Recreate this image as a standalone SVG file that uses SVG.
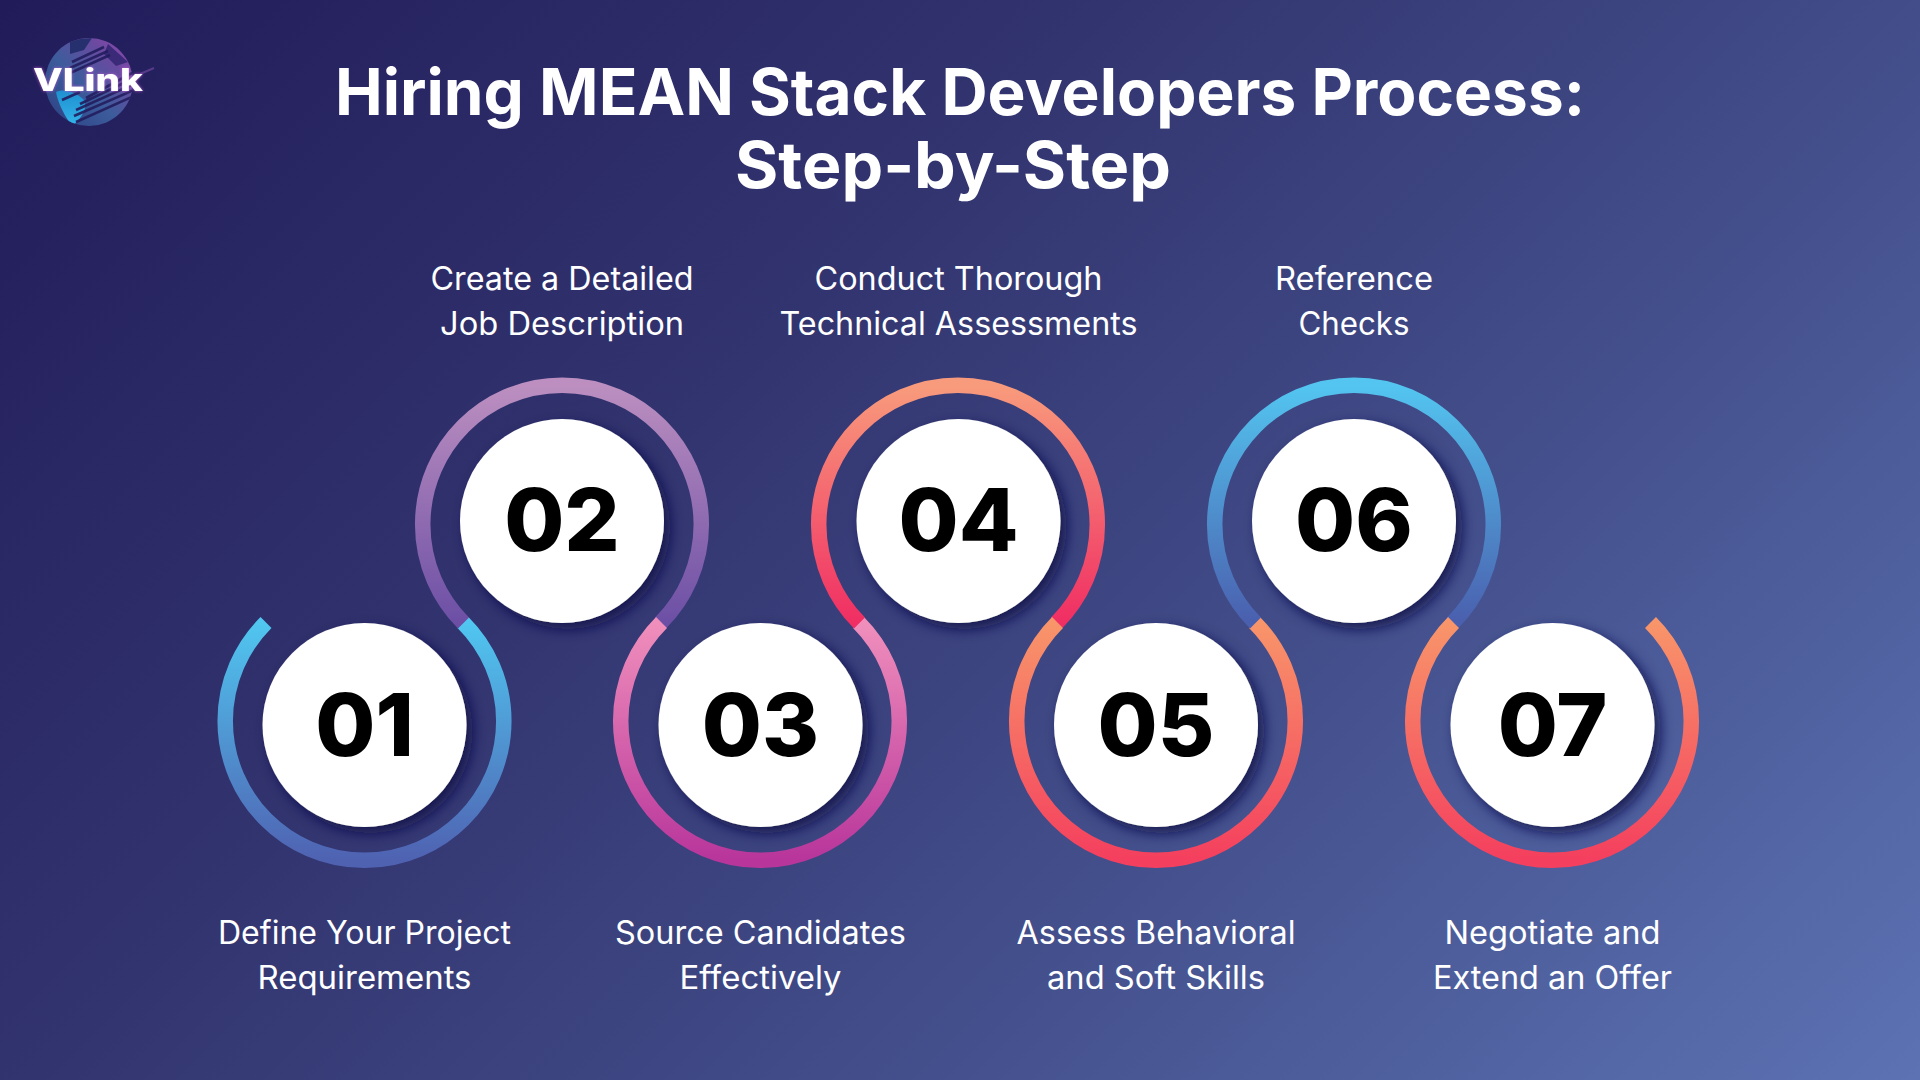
<svg xmlns="http://www.w3.org/2000/svg" width="1920" height="1080" viewBox="0 0 1920 1080">
<defs>
<linearGradient id="bg" gradientUnits="userSpaceOnUse" x1="0" y1="0" x2="1500" y2="1500"><stop offset="0" stop-color="#211b5a"/><stop offset=".37" stop-color="#32346f"/><stop offset=".63" stop-color="#414c88"/><stop offset="1" stop-color="#5c72b3"/></linearGradient>
<linearGradient id="g1" x1="0" y1="0" x2="0" y2="1"><stop offset="0" stop-color="#50c6f0"/><stop offset="1" stop-color="#4f62b2"/></linearGradient>
<linearGradient id="g2" x1="0" y1="0" x2="0" y2="1"><stop offset="0" stop-color="#bc8fc0"/><stop offset="1" stop-color="#6c4fa5"/></linearGradient>
<linearGradient id="g3" x1="0" y1="0" x2="0" y2="1"><stop offset="0" stop-color="#f08fbc"/><stop offset="1" stop-color="#b8359b"/></linearGradient>
<linearGradient id="g4" x1="0" y1="0" x2="0" y2="1"><stop offset="0" stop-color="#f89b7c"/><stop offset="1" stop-color="#f02e63"/></linearGradient>
<linearGradient id="g5" x1="0" y1="0" x2="0" y2="1"><stop offset="0" stop-color="#f8956a"/><stop offset="1" stop-color="#f43f5e"/></linearGradient>
<linearGradient id="g6" x1="0" y1="0" x2="0" y2="1"><stop offset="0" stop-color="#53c5f0"/><stop offset="1" stop-color="#4a5fae"/></linearGradient>
<linearGradient id="globe" x1="0" y1="1" x2="1" y2="0"><stop offset="0" stop-color="#2a3f80"/><stop offset=".45" stop-color="#3d5c9c"/><stop offset=".75" stop-color="#6a4aa0"/><stop offset="1" stop-color="#9a45b0"/></linearGradient>
<linearGradient id="land" x1="0" y1="0" x2="0" y2="1"><stop offset="0" stop-color="#1f8fd0"/><stop offset="1" stop-color="#33b5ea"/></linearGradient>
<filter id="sh" x="-30%" y="-30%" width="170%" height="170%"><feDropShadow dx="6" dy="6" stdDeviation="7" flood-color="#0e0e46" flood-opacity=".85"/></filter>
<filter id="glow" x="-20%" y="-60%" width="140%" height="220%"><feDropShadow dx="0" dy="0" stdDeviation="1.6" flood-color="#c25ad8" flood-opacity="1"/></filter>
<clipPath id="gc"><circle cx="89" cy="82" r="44"/></clipPath>
<style>
.t{font-family:"Inter","Liberation Sans",sans-serif;font-weight:700;font-size:64px;fill:#fff;text-anchor:middle}
.l{font-family:"Inter","Noto Sans",sans-serif;font-weight:400;font-size:32px;fill:#fff;text-anchor:middle}
.n{font-family:"Inter","Liberation Sans",sans-serif;font-weight:800;font-size:87px;fill:#000;text-anchor:middle}
.d{fill:#fff;filter:url(#sh)}
.r{fill:none;stroke-width:15.5}
</style>
</defs>
<rect id="background" width="1920" height="1080" fill="url(#bg)"/>
<g id="logo">
<circle cx="89" cy="82" r="44" fill="url(#globe)"/>
<g clip-path="url(#gc)">
<path d="M56 92C64 88 76 92 84 100C88 108 82 118 72 126C66 118 58 104 56 92Z" fill="url(#land)"/>
<path d="M70 40L92 38L84 50L70 54Z" fill="#27306f"/>
<path d="M108 44L128 62L116 66L104 54Z" fill="#3a2a78"/>
<g stroke="#221d5e" stroke-width="2.6" opacity=".9" fill="none">
<path d="M72 62L104 47M70 68L108 51M68 74L110 55M62 100L80 92M76 122L134 96M74 116L134 90M76 110L134 84M80 104L134 78M86 98L134 72"/>
</g>
</g>
<path d="M140 74L154 68" stroke="#7a4aa8" stroke-width="2" opacity=".6"/>
<text x="88" y="91" font-family="Inter,'Liberation Sans',sans-serif" font-size="31" font-weight="800" fill="#fff" text-anchor="middle" textLength="110" lengthAdjust="spacingAndGlyphs" filter="url(#glow)">VLink</text>
</g>
<text class="t" x="960" y="115" textLength="1250" lengthAdjust="spacingAndGlyphs">Hiring MEAN Stack Developers Process:</text>
<text class="t" x="953" y="188" textLength="436" lengthAdjust="spacingAndGlyphs">Step-by-Step</text>
<g id="connectors">
<path id="ring-1" class="r" stroke="url(#g1)" d="M266 622.5A139.3 139.3 0 1 0 463 622.5"/>
<path id="ring-2" class="r" stroke="url(#g2)" d="M463.5 623A139.3 139.3 0 1 1 660.5 623"/>
<path id="ring-3" class="r" stroke="url(#g3)" d="M661.5 622.5A139.3 139.3 0 1 0 858.5 622.5"/>
<path id="ring-4" class="r" stroke="url(#g4)" d="M859.5 623A139.3 139.3 0 1 1 1056.5 623"/>
<path id="ring-5" class="r" stroke="url(#g5)" d="M1057.5 622.5A139.3 139.3 0 1 0 1254.5 622.5"/>
<path id="ring-6" class="r" stroke="url(#g6)" d="M1255.5 623A139.3 139.3 0 1 1 1452.5 623"/>
<path id="ring-7" class="r" stroke="url(#g5)" d="M1453.5 622.5A139.3 139.3 0 1 0 1650.5 622.5"/>
</g>
<g id="node-1"><circle class="d" cx="364.5" cy="725" r="102"/><text class="n" x="364.5" y="756">01</text><text class="l" x="364.5" y="944" textLength="293" lengthAdjust="spacingAndGlyphs">Define Your Project</text><text class="l" x="364.5" y="989" textLength="214" lengthAdjust="spacingAndGlyphs">Requirements</text></g>
<g id="node-2"><circle class="d" cx="562" cy="521" r="102"/><text class="n" x="562" y="551">02</text><text class="l" x="562" y="290" textLength="263" lengthAdjust="spacingAndGlyphs">Create a Detailed</text><text class="l" x="562" y="335" textLength="244" lengthAdjust="spacingAndGlyphs">Job Description</text></g>
<g id="node-3"><circle class="d" cx="760.5" cy="725" r="102"/><text class="n" x="760.5" y="756">03</text><text class="l" x="760.5" y="944" textLength="291" lengthAdjust="spacingAndGlyphs">Source Candidates</text><text class="l" x="760.5" y="989" textLength="162" lengthAdjust="spacingAndGlyphs">Effectively</text></g>
<g id="node-4"><circle class="d" cx="958.5" cy="521" r="102"/><text class="n" x="958.5" y="551">04</text><text class="l" x="958.5" y="290" textLength="288" lengthAdjust="spacingAndGlyphs">Conduct Thorough</text><text class="l" x="958.5" y="335" textLength="358" lengthAdjust="spacingAndGlyphs">Technical Assessments</text></g>
<g id="node-5"><circle class="d" cx="1156" cy="725" r="102"/><text class="n" x="1156" y="756">05</text><text class="l" x="1156" y="944" textLength="279" lengthAdjust="spacingAndGlyphs">Assess Behavioral</text><text class="l" x="1156" y="989" textLength="218" lengthAdjust="spacingAndGlyphs">and Soft Skills</text></g>
<g id="node-6"><circle class="d" cx="1354" cy="521" r="102"/><text class="n" x="1354" y="551">06</text><text class="l" x="1354" y="290" textLength="158" lengthAdjust="spacingAndGlyphs">Reference</text><text class="l" x="1354" y="335" textLength="111" lengthAdjust="spacingAndGlyphs">Checks</text></g>
<g id="node-7"><circle class="d" cx="1552.5" cy="725" r="102"/><text class="n" x="1552.5" y="756">07</text><text class="l" x="1552.5" y="944" textLength="216" lengthAdjust="spacingAndGlyphs">Negotiate and</text><text class="l" x="1552.5" y="989" textLength="239" lengthAdjust="spacingAndGlyphs">Extend an Offer</text></g>
</svg>
